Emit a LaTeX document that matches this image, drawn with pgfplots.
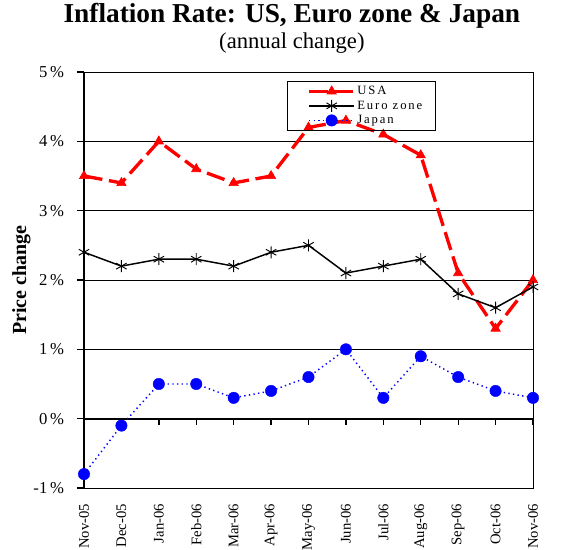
\documentclass[border=0pt]{standalone}
\usepackage{fontspec}
\setmainfont{Liberation Serif}
\newfontfamily\legfont[LetterSpace=15]{Liberation Serif}
\usepackage{pgfplots}
\pgfplotsset{compat=1.18}
\usetikzlibrary{calc}
\begin{document}
\begin{tikzpicture}
\begin{axis}[name=ax, at={(0,0)}, anchor=south west, scale only axis,
  width=336.75pt, height=312pt,
  xmin=0, xmax=12, ymin=-1, ymax=5, clip=false,
  xtick={0,...,12},
  xticklabels={Nov-05,Dec-05,Jan-06,Feb-06,Mar-06,Apr-06,May-06,Jun-06,Jul-06,Aug-06,Sep-06,Oct-06,Nov-06},
  ytick={-1,0,1,2,3,4,5},
  yticklabels={-1\,\%,0\,\%,1\,\%,2\,\%,3\,\%,4\,\%,5\,\%},
  tick pos=left,
  tick align=outside,
  xtick style={draw=none, /pgfplots/major tick length=0pt},
  ytick style={black, line width=1pt, /pgfplots/major tick length=5.25pt},
  xticklabel style={yshift=-7.5pt, rotate=90, anchor=east, inner sep=0pt, font=\fontsize{11}{12}\selectfont},
  yticklabel style={xshift=-10.5pt, anchor=east, inner sep=0pt, font=\fontsize{12.5}{13}\selectfont},
  ymajorgrids, grid style={black, line width=0.5pt},
  axis line style={black, line width=0.6pt},
  legend style={at={(0.452,1)}, anchor=north west, yshift=-6.75pt, draw=black, line width=0.6pt, fill=none,
    font=\legfont\fontsize{9.5}{10}\selectfont, inner xsep=9pt, inner ysep=2.5pt, row sep=1.2pt,
    nodes={inner sep=1pt}},
  legend cell align=left,
  legend image code/.code={\path (0pt,0pt); \draw[mark repeat=2, mark phase=2, #1] plot coordinates {(6pt,0pt) (23pt,0pt) (40pt,0pt)};},
]
\draw[line width=1.5pt] (axis cs:0,-1) -- (axis cs:0,5);
\draw[line width=1.5pt] (axis cs:0,0) -- (axis cs:12,0);
\pgfplotsinvokeforeach{1,...,12}{\draw[line width=1pt] (axis cs:#1,0) -- ([yshift=-4.5pt]axis cs:#1,0);}
\addplot[red, line width=2.5pt, dash pattern=on 14pt off 5pt, mark=triangle*, mark size=4pt, mark options={solid, line width=0.5pt, fill=red}]
 coordinates {(0,3.5)(1,3.4)(2,4.0)(3,3.6)(4,3.4)(5,3.5)(6,4.2)(7,4.3)(8,4.1)(9,3.8)(10,2.1)(11,1.3)(12,2.0)};
\addlegendentry{USA}
\addplot[black, line width=1.1pt, mark=asterisk, mark size=4.5pt, mark options={solid, line width=0.7pt}]
 coordinates {(0,2.4)(1,2.2)(2,2.3)(3,2.3)(4,2.2)(5,2.4)(6,2.5)(7,2.1)(8,2.2)(9,2.3)(10,1.8)(11,1.6)(12,1.9)};
\addlegendentry{Euro zone}
\addplot[blue, line width=1.1pt, dash pattern=on 1pt off 2.5pt, mark=*, mark size=4.3pt, mark options={solid, fill=blue, draw=blue, line width=0.3pt}]
 coordinates {(0,-0.8)(1,-0.1)(2,0.5)(3,0.5)(4,0.3)(5,0.4)(6,0.6)(7,1.0)(8,0.3)(9,0.9)(10,0.6)(11,0.4)(12,0.3)};
\addlegendentry{Japan}
\end{axis}
\node[anchor=base, font=\bfseries\fontsize{20.5}{22}\selectfont] at ($(ax.north west)!0.463!(ax.north east)+(0,36.75pt)$) {Inflation Rate: US, Euro zone \& Japan};
\node[anchor=base, font=\fontsize{17}{18}\selectfont] at ($(ax.north west)!0.463!(ax.north east)+(0,17.25pt)$) {(annual change)};
\node[rotate=90, font=\bfseries\fontsize{15}{16}\selectfont] at ($(ax.west)+(-47pt,0)$) {Price change};
\pgfresetboundingbox
\path[use as bounding box] ($(ax.south west)+(-63pt,-46.5pt)$) rectangle ($(ax.north east)+(38.25pt,54pt)$);
\end{tikzpicture}
\end{document}
